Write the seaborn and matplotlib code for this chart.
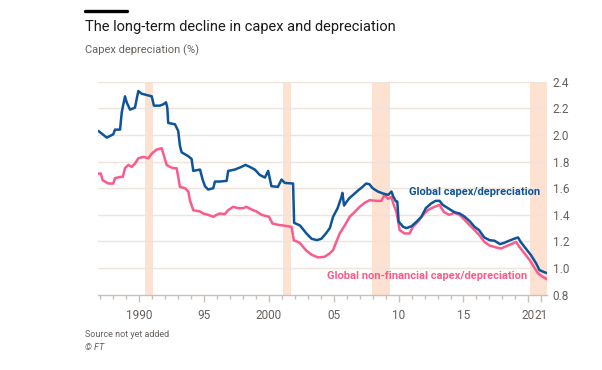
import matplotlib
matplotlib.use("Agg")
import matplotlib.pyplot as plt
import seaborn as sns
import pandas as pd
from matplotlib.lines import Line2D

# Global capex/depreciation
years_global = [1986.87, 1987.52, 1988.02, 1988.15, 1988.54, 1988.67, 1988.92, 1989.05, 1989.31,
                1989.69, 1989.82, 1989.95, 1990.2, 1990.98, 1991.15, 1991.6, 1991.87, 1992.08,
                1992.18, 1992.25, 1992.77, 1993.02, 1993.15, 1993.28, 1993.8, 1994.05, 1994.18,
                1994.7, 1994.9, 1995.08, 1995.33, 1995.72, 1995.85, 1996.23, 1996.75, 1996.87,
                1997.38, 1997.77, 1998.2, 1998.54, 1998.92, 1999.3, 1999.7, 1999.95, 2000.2,
                2000.7, 2000.98, 2001.23, 2001.87, 2001.95, 2002.4, 2002.9, 2003.3, 2003.7,
                2004.05, 2004.4, 2004.7, 2004.95, 2005.3, 2005.6, 2005.67, 2005.8, 2005.9,
                2006.2, 2006.5, 2006.9, 2007.1, 2007.5, 2007.75, 2008.0, 2008.4, 2008.8,
                2009.2, 2009.45, 2009.6, 2009.8, 2009.9, 2010.0, 2010.35, 2010.6, 2011.0,
                2011.4, 2011.75, 2012.1, 2012.5, 2012.85, 2013.15, 2013.4, 2013.8, 2014.3,
                2014.7, 2015.1, 2015.5, 2015.85, 2016.2, 2016.6, 2017.0, 2017.4, 2017.8,
                2018.15, 2018.5, 2018.9, 2019.2, 2019.4, 2019.8, 2020.2, 2020.6, 2020.85,
                2021.2, 2021.45]
values_global = [2.03, 1.98, 2.005, 2.04, 2.04, 2.17, 2.29, 2.245, 2.19,
                 2.205, 2.27, 2.33, 2.31, 2.29, 2.22, 2.22, 2.23, 2.245,
                 2.205, 2.09, 2.08, 2.03, 1.92, 1.87, 1.84, 1.82, 1.73,
                 1.74, 1.665, 1.615, 1.59, 1.60, 1.65, 1.65, 1.655, 1.73,
                 1.74, 1.755, 1.775, 1.76, 1.74, 1.70, 1.68, 1.73, 1.615,
                 1.61, 1.665, 1.64, 1.635, 1.34, 1.32, 1.26, 1.22, 1.21,
                 1.22, 1.26, 1.30, 1.385, 1.45, 1.535, 1.565, 1.47, 1.485,
                 1.525, 1.55, 1.585, 1.60, 1.635, 1.63, 1.60, 1.575, 1.56,
                 1.55, 1.575, 1.535, 1.50, 1.50, 1.35, 1.31, 1.30, 1.315,
                 1.35, 1.385, 1.45, 1.485, 1.505, 1.505, 1.475, 1.45, 1.42,
                 1.41, 1.385, 1.35, 1.31, 1.285, 1.23, 1.21, 1.205, 1.18,
                 1.19, 1.205, 1.22, 1.23, 1.197, 1.147, 1.097, 1.035, 0.985,
                 0.97, 0.962]

# Global non-financial capex/depreciation
years_nonfin = [1986.87, 1987.05, 1987.2, 1987.64, 1988.02, 1988.15, 1988.54, 1988.75, 1988.92,
                1989.18, 1989.44, 1989.69, 1989.95, 1990.33, 1990.72, 1990.98, 1991.36, 1991.75,
                1991.87, 1992.13, 1992.38, 1992.64, 1992.9, 1993.02, 1993.15, 1993.54, 1993.8,
                1993.92, 1994.18, 1994.7, 1994.95, 1995.33, 1995.72, 1995.98, 1996.23, 1996.6,
                1996.87, 1997.25, 1997.64, 1998.02, 1998.28, 1998.67, 1999.05, 1999.44, 1999.82,
                2000.02, 2000.28, 2000.72, 2001.1, 2001.75, 2001.92, 2002.38, 2002.85, 2003.3,
                2003.8, 2004.3, 2004.69, 2004.95, 2005.2, 2005.46, 2005.85, 2006.23, 2006.6,
                2007.0, 2007.38, 2007.77, 2008.28, 2008.67, 2008.92, 2009.18, 2009.44, 2009.64,
                2009.82, 2009.95, 2010.08, 2010.46, 2010.85, 2011.1, 2011.5, 2011.9, 2012.25,
                2012.65, 2013.15, 2013.5, 2013.9, 2014.3, 2014.7, 2015.1, 2015.5, 2015.85,
                2016.2, 2016.6, 2017.0, 2017.5, 2017.9, 2018.3, 2018.8, 2019.05, 2019.3,
                2019.7, 2020.1, 2020.5, 2020.75, 2021.1, 2021.45]
values_nonfin = [1.71, 1.71, 1.66, 1.635, 1.635, 1.675, 1.685, 1.685, 1.75,
                 1.775, 1.76, 1.785, 1.825, 1.835, 1.825, 1.86, 1.89, 1.90,
                 1.86, 1.775, 1.76, 1.75, 1.75, 1.685, 1.61, 1.60, 1.575,
                 1.51, 1.435, 1.425, 1.41, 1.40, 1.385, 1.40, 1.41, 1.405,
                 1.435, 1.46, 1.45, 1.45, 1.46, 1.44, 1.425, 1.40, 1.39,
                 1.385, 1.335, 1.325, 1.32, 1.31, 1.21, 1.19, 1.135, 1.10,
                 1.08, 1.085, 1.11, 1.135, 1.197, 1.26, 1.32, 1.385, 1.42,
                 1.46, 1.49, 1.51, 1.505, 1.505, 1.55, 1.52, 1.535, 1.47,
                 1.425, 1.36, 1.285, 1.26, 1.26, 1.31, 1.35, 1.40, 1.435,
                 1.455, 1.475, 1.42, 1.40, 1.415, 1.40, 1.36, 1.32, 1.285,
                 1.25, 1.197, 1.17, 1.155, 1.147, 1.165, 1.185, 1.197, 1.16,
                 1.11, 1.06, 0.997, 0.96, 0.935, 0.915]

# Recession bands (start, end)
recessions = [(1990.45, 1991.05), (2001.1, 2001.7), (2007.95, 2009.3), (2020.15, 2021.45)]

x_ticks = [1990, 1995, 2000, 2005, 2010, 2015, 2020, 2021]
x_tick_labels = ['1990', '95', '2000', '05', '10', '15', '20', '21']
y_ticks = [0.8, 1.0, 1.2, 1.4, 1.6, 1.8, 2.0, 2.2, 2.4]

BLUE = '#0f5499'
PINK = '#fc5a8a'
BAND = '#fde2d2'
GRID = '#efe4dc'
GREY = '#66605c'
AXIS = '#c9c0b9'


def make_chart():
    sns.set_style('white')
    plt.rcParams['font.family'] = ['Roboto', 'DejaVu Sans']

    df_g = pd.DataFrame({'Year': years_global, 'Value': values_global})
    df_n = pd.DataFrame({'Year': years_nonfin, 'Value': values_nonfin})

    fig = plt.figure(figsize=(6.02, 3.70), dpi=100)
    ax = fig.add_axes([0.163, 0.2035, 0.746, 0.5757])

    for start, end in recessions:
        ax.axvspan(start, end, color=BAND, lw=0, zorder=0)

    for y in y_ticks[1:]:
        ax.axhline(y, color=GRID, lw=1, zorder=0.5)

    sns.lineplot(data=df_n, x='Year', y='Value', color=PINK, lw=1.8, ax=ax, zorder=3)
    sns.lineplot(data=df_g, x='Year', y='Value', color=BLUE, lw=1.8, ax=ax, zorder=4)

    ax.set_xlim(1986.85, 2021.45)
    ax.set_ylim(0.8, 2.4)
    ax.set_xlabel('')
    ax.set_ylabel('')

    # y axis on the right
    ax.yaxis.tick_right()
    ax.set_yticks(y_ticks)
    ax.set_yticklabels([f'{v:.1f}' for v in y_ticks])
    ax.tick_params(axis='y', length=0, pad=4, labelsize=8.5, labelcolor=GREY)

    # x axis: years with small yearly ticks
    ax.set_xticks(x_ticks)
    ax.set_xticklabels(x_tick_labels)
    ax.set_xticks(list(range(1987, 2022)), minor=True)
    ax.tick_params(axis='x', which='both', bottom=True, direction='out')
    ax.tick_params(axis='x', which='major', length=5, width=1, color=AXIS, pad=5,
                   labelsize=8.5, labelcolor=GREY)
    ax.tick_params(axis='x', which='minor', length=3, width=1, color=AXIS)

    for side in ['top', 'left', 'right']:
        ax.spines[side].set_visible(False)
    ax.spines['bottom'].set_color(AXIS)
    ax.spines['bottom'].set_linewidth(1)

    # line labels
    ax.text(2020.9, 1.57, 'Global capex/depreciation', color=BLUE, fontsize=8,
            fontweight='bold', ha='right', va='center')
    ax.text(2019.9, 0.94, 'Global non-financial capex/depreciation', color=PINK,
            fontsize=8, fontweight='bold', ha='right', va='center')

    # header
    fig.add_artist(Line2D([0.141, 0.211], [0.970, 0.970], color='black', lw=2.4))
    fig.text(0.141, 0.928, 'The long-term decline in capex and depreciation',
             fontsize=10.5, color='#1a1a1a', va='center')
    fig.text(0.141, 0.865, 'Capex depreciation (%)', fontsize=8, color=GREY, va='center')

    # footer
    fig.text(0.141, 0.095, 'Source not yet added', fontsize=6.5, color=GREY, va='center')
    fig.text(0.141, 0.062, '© FT', fontsize=6.5, color=GREY, va='center', style='italic')

    fig.savefig('out.png', dpi=100, facecolor='white')
    plt.close(fig)


if __name__ == "__main__":
    make_chart()
